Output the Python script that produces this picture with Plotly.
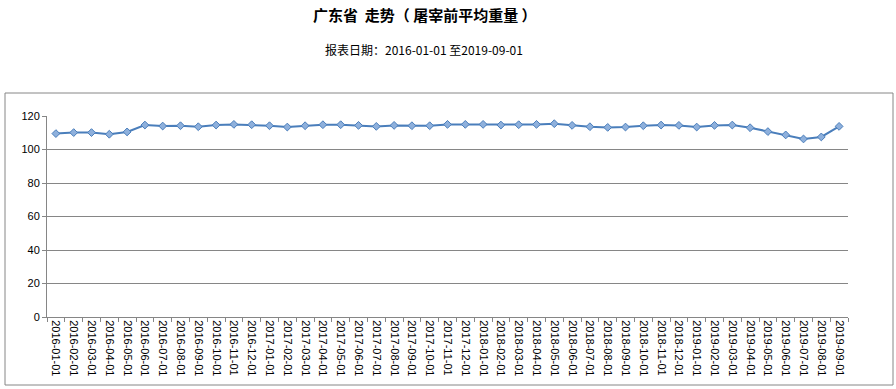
import plotly.graph_objects as go

dates = [
    "2016-01-01", "2016-02-01", "2016-03-01", "2016-04-01", "2016-05-01", "2016-06-01",
    "2016-07-01", "2016-08-01", "2016-09-01", "2016-10-01", "2016-11-01", "2016-12-01",
    "2017-01-01", "2017-02-01", "2017-03-01", "2017-04-01", "2017-05-01", "2017-06-01",
    "2017-07-01", "2017-08-01", "2017-09-01", "2017-10-01", "2017-11-01", "2017-12-01",
    "2018-01-01", "2018-02-01", "2018-03-01", "2018-04-01", "2018-05-01", "2018-06-01",
    "2018-07-01", "2018-08-01", "2018-09-01", "2018-10-01", "2018-11-01", "2018-12-01",
    "2019-01-01", "2019-02-01", "2019-03-01", "2019-04-01", "2019-05-01", "2019-06-01",
    "2019-07-01", "2019-08-01", "2019-09-01",
]
weights = [
    109.5, 110.1, 110.1, 109.1, 110.5, 114.6,
    114.0, 114.2, 113.6, 114.6, 115.0, 114.8,
    114.2, 113.4, 114.2, 114.8, 114.8, 114.4,
    113.8, 114.4, 114.2, 114.2, 115.0, 115.0,
    115.0, 114.6, 114.8, 115.0, 115.4, 114.4,
    113.6, 113.2, 113.4, 114.2, 114.6, 114.4,
    113.4, 114.4, 114.6, 113.0, 110.7, 108.7,
    106.3, 107.5, 113.8,
]
y_ticks = [0, 20, 40, 60, 80, 100, 120]

title_text = "广东省  走势（ 屠宰前平均重量 ）"
subtitle_text = "报表日期：2016-01-01 至2019-09-01"

W, H = 896, 389
L, R, T, B = 47, 48, 116, 72
pw = W - L - R
ph = H - T - B

def px_x(x):
    return (x - L) / pw

def px_y(y):
    return (H - B - y) / ph

fig = go.Figure()
fig.add_trace(go.Scatter(
    x=dates, y=weights, mode="lines+markers",
    line=dict(color="#4A7EBB", width=2),
    marker=dict(symbol="diamond", size=6, color="#8EB0DC",
                line=dict(color="#4A7EBB", width=1)),
    showlegend=False,
))

grid = "#868686"
fig.update_layout(
    width=W, height=H,
    margin=dict(l=L, r=R, t=T, b=B),
    paper_bgcolor="white", plot_bgcolor="white",
    font=dict(family="Liberation Sans", size=11, color="black"),
    xaxis=dict(
        type="category", range=[-0.5, len(dates) - 0.5],
        tickangle=90, tickson="boundaries",
        ticks="outside", ticklen=4, tickcolor=grid,
        showline=True, linecolor=grid, linewidth=1, automargin=False,
        showgrid=False, tickfont=dict(family="Liberation Sans", size=11),
    ),
    yaxis=dict(
        range=[0, 120], tickvals=y_ticks, ticks="outside", ticklen=4,
        tickcolor=grid, showline=True, linecolor=grid, linewidth=1,
        showgrid=True, gridcolor=grid, gridwidth=1, zeroline=False,
        automargin=False,
        tickfont=dict(family="Liberation Sans", size=11),
    ),
    shapes=[dict(
        type="rect", xref="paper", yref="paper",
        x0=px_x(5), x1=px_x(893), y0=px_y(385), y1=px_y(93),
        line=dict(color=grid, width=1), fillcolor="rgba(0,0,0,0)",
    )],
    annotations=[
        dict(text="<b>" + title_text + "</b>", xref="paper", yref="paper",
             x=px_x(425), y=px_y(15), xanchor="center", yanchor="middle",
             showarrow=False,
             font=dict(family="Noto Sans CJK SC", size=15, color="black")),
        dict(text=subtitle_text, xref="paper", yref="paper",
             x=px_x(424), y=px_y(50), xanchor="center", yanchor="middle",
             showarrow=False,
             font=dict(family="Noto Sans CJK SC", size=12, color="black")),
    ],
)

fig.write_html(
    "out.html",
    config={"displayModeBar": False},
    post_script="document.body.style.margin='0';document.body.style.padding='0';",
)
